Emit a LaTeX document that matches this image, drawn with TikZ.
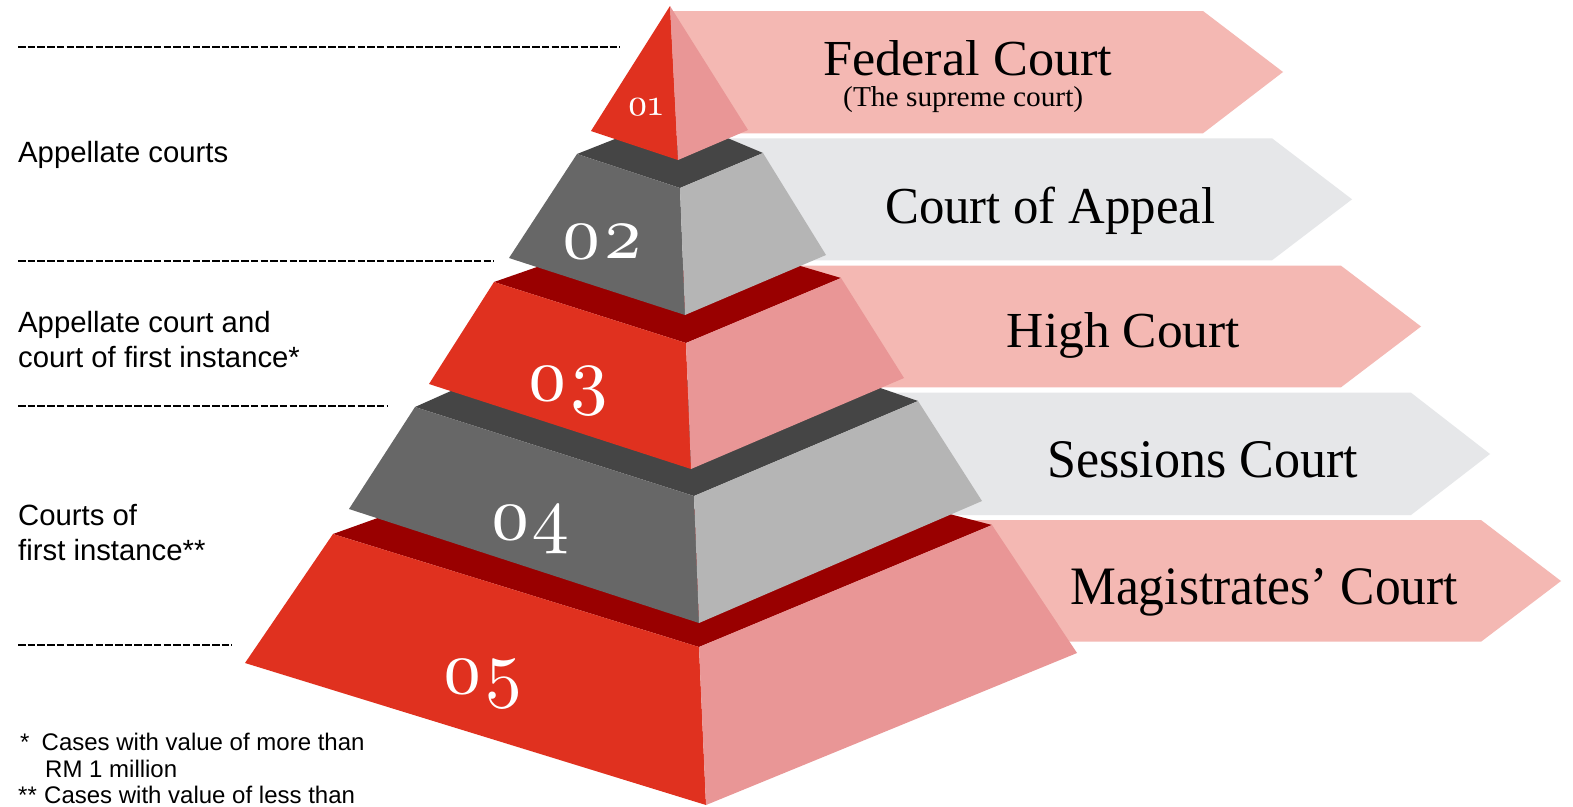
\documentclass[tikz,border=0pt]{standalone}
\usepackage{fontspec}
\setmainfont{Liberation Serif}
\newfontfamily\sansf{Liberation Sans}
\newfontfamily\numf{lmroman10-regular}[Extension=.otf, Numbers=OldStyle]
\definecolor{fred}{HTML}{E0311F}
\definecolor{fpink}{HTML}{E99696}
\definecolor{fdred}{HTML}{990000}
\definecolor{fgray}{HTML}{676767}
\definecolor{flgray}{HTML}{B5B5B5}
\definecolor{fdgray}{HTML}{454545}
\definecolor{bpink}{HTML}{F4B8B3}
\definecolor{bgray}{HTML}{E6E7E9}
\tikzset{
  lab/.style={anchor=base west, inner sep=0pt, font=\sansf\fontsize{29.3}{34}\selectfont},
  foot/.style={anchor=base west, inner sep=0pt, font=\sansf\fontsize{24}{28}\selectfont},
  num/.style={anchor=base west, inner sep=0pt, text=white, font=\numf\fontsize{74}{74}\selectfont},
  btxt/.style={anchor=base west, inner sep=0pt, font=\fontsize{50}{50}\selectfont},
  sep/.style={line width=1.8pt, dash pattern=on 7.5pt off 2.2pt, black}
}
\begin{document}
\begin{tikzpicture}[x=1pt,y=-1pt]
\useasboundingbox (0,0) rectangle (1573,806);
\fill[white] (0,0) rectangle (1573,806);
% banners
\fill[bpink] (670,11) -- (1203,11) -- (1283,72) -- (1203,133.3) -- (670,133.3) -- cycle;
\fill[bgray] (700,138.3) -- (1272,138.3) -- (1352,199.3) -- (1272,260.3) -- (700,260.3) -- cycle;
\fill[bpink] (700,265.7) -- (1341,265.7) -- (1421,326.5) -- (1341,387.3) -- (700,387.3) -- cycle;
\fill[bgray] (700,392.7) -- (1411,392.7) -- (1490,454) -- (1411,515) -- (700,515) -- cycle;
\fill[bpink] (700,520) -- (1481,520) -- (1561,581) -- (1481,641.7) -- (700,641.7) -- cycle;
% tier 5
\fill[fdred] (333,534) -- (400,510) -- (930,509) -- (992,525) -- (699,647) -- cycle;
\fill[fred] (333,534) -- (699,647) -- (706,805) -- (245,663) -- cycle;
\fill[fpink] (699,647) -- (992,525) -- (1077,653) -- (706,805) -- cycle;
% tier 4
\fill[fdgray] (415,407) -- (480,378) -- (860,381) -- (918,401) -- (694,496) -- cycle;
\fill[fgray] (415,407) -- (694,496) -- (699,623) -- (349,509) -- cycle;
\fill[flgray] (694,496) -- (918,401) -- (982,501) -- (699,623) -- cycle;
% tier 3
\fill[fdred] (494,282) -- (560,259) -- (780,260) -- (841,278) -- (686,343) -- cycle;
\fill[fred] (494,282) -- (686,343) -- (691,469) -- (429,384) -- cycle;
\fill[fpink] (686,343) -- (841,278) -- (904,378) -- (691,469) -- cycle;
% tier 2
\fill[fdgray] (577,154) -- (620,137) -- (725,137) -- (763,153) -- (680,188) -- cycle;
\fill[fgray] (577,154) -- (680,188) -- (685,315) -- (509,258) -- cycle;
\fill[flgray] (680,188) -- (763,153) -- (826,255) -- (685,315) -- cycle;
% tier 1
\fill[fred] (670,6) -- (591,131) -- (678,160) -- cycle;
\fill[fpink] (670,6) -- (678,160) -- (748,130) -- cycle;
% numbers
\node[num, font=\numf\fontsize{37}{37}\selectfont] (n1) at (627,115) {01};
\node[num] (n2) at (560,258) {02};
\node[num] (n3) at (526,400) {03};
\node[num] (n4) at (489,539) {04};
\node[num] (n5) at (441,693) {05};
% banner texts
\node[btxt] (b1) at (823,75) {\resizebox{289pt}{35pt}{Federal Court}};
\node[btxt] (b1s) at (843,106) {\resizebox{240pt}{20pt}{(The supreme court)}};
\node[btxt] (b2) at (885,223.3) {\resizebox{330pt}{36.5pt}{Court of Appeal}};
\node[btxt] (b3) at (1006.7,347.3) {\resizebox{233pt}{35pt}{High Court}};
\node[btxt] (b4) at (1047,477) {\resizebox{311pt}{36pt}{Sessions Court}};
\node[btxt] (b5) at (1070,604) {\resizebox{388pt}{36pt}{Magistrates’ Court}};
% dashed separators
\coordinate (d1a) at (18,46.7); \coordinate (d1b) at (620,46.7);
\coordinate (d2a) at (18,261); \coordinate (d2b) at (494,261);
\coordinate (d3a) at (18,406); \coordinate (d3b) at (387,406);
\coordinate (d4a) at (18,645); \coordinate (d4b) at (232,645);
\draw[sep] (d1a) -- (d1b);
\draw[sep] (d2a) -- (d2b);
\draw[sep] (d3a) -- (d3b);
\draw[sep] (d4a) -- (d4b);
% left labels
\node[lab] (l1) at (18,162) {Appellate courts};
\node[lab] (l2) at (18,332) {Appellate court and};
\node[lab] (l3) at (18,367) {court of first instance*};
\node[lab] (l4) at (18,525) {Courts of};
\node[lab] (l5) at (18,560) {first instance**};
% footnotes
\node[foot] (f1) at (20,750) {*};
\node[foot] (f2) at (41.5,750) {Cases with value of more than};
\node[foot] (f3) at (45,777) {RM 1 million};
\node[foot] (f4) at (18,803) {**};
\node[foot] (f5) at (44,803) {Cases with value of less than};
\end{tikzpicture}
\end{document}
